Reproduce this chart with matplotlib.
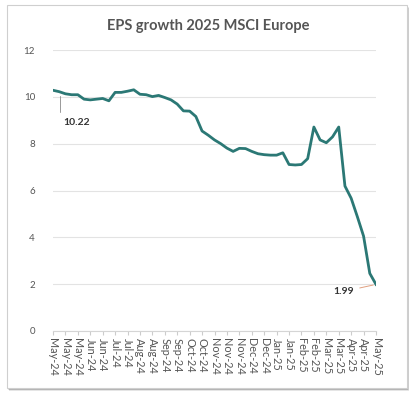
import numpy as np
import matplotlib.pyplot as plt
from matplotlib.patches import Rectangle

# weekly EPS growth estimates (%), May-24 .. May-25
eps = [10.28, 10.22, 10.13, 10.09, 10.09, 9.90, 9.87, 9.90, 9.93, 9.83,
       10.19, 10.19, 10.24, 10.30, 10.11, 10.09, 10.01, 10.06, 9.97, 9.87,
       9.69, 9.40, 9.39, 9.16, 8.54, 8.36, 8.16, 8.00, 7.81, 7.67,
       7.80, 7.79, 7.67, 7.57, 7.53, 7.51, 7.51, 7.61, 7.11, 7.09,
       7.11, 7.36, 8.71, 8.16, 8.04, 8.29, 8.71, 6.19, 5.67, 4.88,
       4.05, 2.46, 1.99]
tick_labels = ['May-24', 'May-24', 'May-24', 'Jun-24', 'Jun-24', 'Jul-24', 'Jul-24',
               'Aug-24', 'Aug-24', 'Sep-24', 'Sep-24', 'Oct-24', 'Oct-24',
               'Nov-24', 'Nov-24', 'Nov-24', 'Dec-24', 'Dec-24', 'Jan-25', 'Jan-25',
               'Feb-25', 'Feb-25', 'Mar-25', 'Mar-25', 'Apr-25', 'Apr-25', 'May-25']

plt.rcParams['font.family'] = ['Lato', 'DejaVu Sans']
grey = '#555555'
teal = '#2b7875'

fig = plt.figure(figsize=(4.17, 3.99), dpi=100)

# card with a soft shadow
for k, a in enumerate([0.10, 0.10, 0.12, 0.15]):
    off = (4 - k) * 0.8
    fig.patches.append(Rectangle(((8 + off * 0.3) / 417, (11 - off) / 399),
                                 400 / 417, 383 / 399, transform=fig.transFigure,
                                 facecolor='#000000', alpha=a, edgecolor='none', zorder=0))
fig.patches.append(Rectangle((7 / 417, 11 / 399), 400 / 417, 383 / 399,
                             transform=fig.transFigure, facecolor='white',
                             edgecolor='#cfcfcf', linewidth=0.8, zorder=1))

ax = fig.add_axes([53 / 417, 68 / 399, 323 / 417, 281 / 399])
ax.set_zorder(5)
ax.set_facecolor('none')
x = np.arange(len(eps))
ax.plot(x, eps, color=teal, linewidth=2, solid_joinstyle='round')

ax.set_xlim(0, len(eps) - 1)
ax.set_ylim(0, 12)
ax.set_yticks(range(0, 13, 2))
ax.set_xticks(x[::2])
ax.set_xticklabels(tick_labels, rotation=-90, fontsize=7.8, color=grey)
ax.tick_params(axis='y', length=0, labelsize=7, labelcolor=grey, pad=13)
ax.tick_params(axis='x', length=3, color='#cccccc', pad=2)
ax.grid(axis='y', color='#e3e3e3', linewidth=0.8)
for s in ['top', 'right', 'left']:
    ax.spines[s].set_visible(False)
ax.spines['bottom'].set_color('#d5d5d5')

ax.annotate(f'{eps[1]:.2f}', xy=(x[1] + 0.2, eps[1] - 0.05), xytext=(x[1] + 0.6, eps[1] - 1.3),
            fontsize=7.5, color='#333333', fontweight='bold', va='center',
            arrowprops=dict(arrowstyle='-', color='#999999', linewidth=0.7,
                            connectionstyle='angle,angleA=0,angleB=90,rad=0'))
ax.annotate(f'{eps[-1]:.2f}', xy=(x[-1], eps[-1]), xytext=(x[-1] - 3.5, eps[-1] - 0.3),
            fontsize=7.5, color='#333333', fontweight='bold', va='center', ha='right',
            arrowprops=dict(arrowstyle='-', color='#e0a080', linewidth=0.7))

fig.text(208 / 417, 1 - 26 / 399, 'EPS growth 2025 MSCI Europe', ha='center', va='center',
         fontsize=10.5, fontweight='bold', color=grey)

fig.savefig('out.png', dpi=100)
